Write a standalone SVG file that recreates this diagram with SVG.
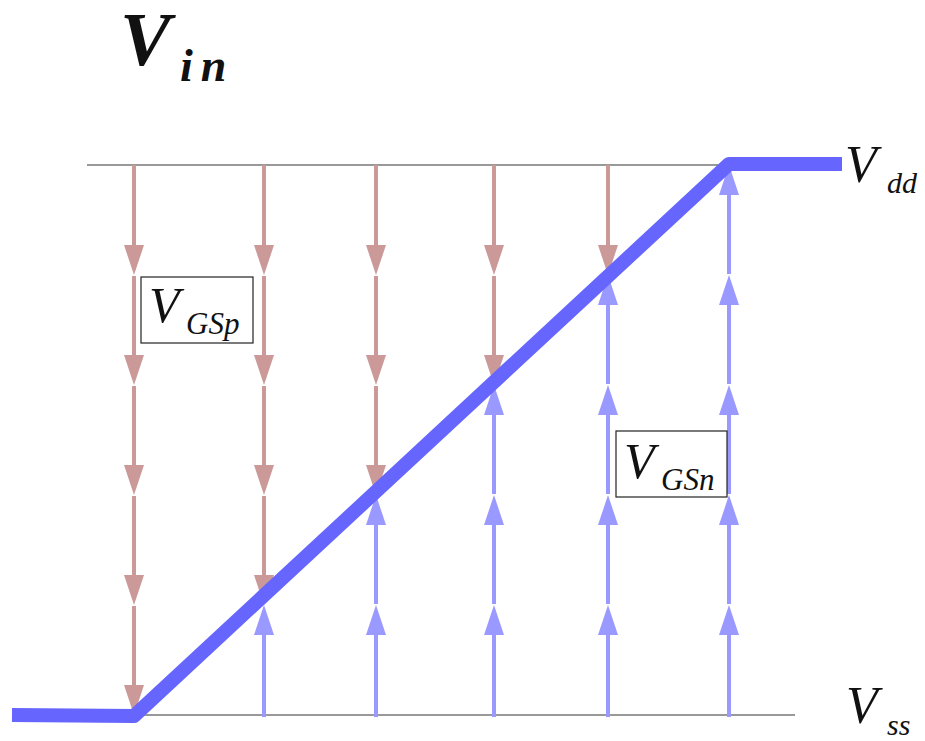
<svg xmlns="http://www.w3.org/2000/svg" width="925" height="741" viewBox="0 0 925 741">
<defs>
<style>
.rail{stroke:#999999;stroke-width:2;fill:none}
.pa{stroke:#cc9999;stroke-width:4;fill:none;marker-end:url(#hr)}
.na{stroke:#9999ff;stroke-width:4;fill:none;marker-end:url(#hb)}
.vin{stroke:#6666ff;stroke-width:14;fill:none;stroke-linejoin:round}
.lbl{font-family:"Liberation Serif","DejaVu Serif",serif;font-style:italic;fill:#111}
.box{fill:#ffffff;stroke:#222;stroke-width:1.2}
</style>
<marker id="hr" markerUnits="userSpaceOnUse" markerWidth="30" markerHeight="20" viewBox="0 0 30 20" refX="10" refY="10" orient="auto"><path d="M0,0 L30,10 L0,20 z" fill="#cc9999"/></marker>
<marker id="hb" markerUnits="userSpaceOnUse" markerWidth="30" markerHeight="20" viewBox="0 0 30 20" refX="10" refY="10" orient="auto"><path d="M0,0 L30,10 L0,20 z" fill="#9999ff"/></marker>
</defs>
<rect width="925" height="741" fill="#ffffff"/>
<g id="rails">
<line class="rail" x1="87" y1="165" x2="728" y2="165"/>
<line class="rail" x1="130" y1="715" x2="795" y2="715"/>
</g>
<g id="connectors">
<path class="pa" d="M134,165V255"/><path class="pa" d="M134,276V365"/><path class="pa" d="M134,386V475"/><path class="pa" d="M134,496V585"/><path class="pa" d="M134,606V695"/>
<path class="pa" d="M264,165V255"/><path class="pa" d="M264,276V365"/><path class="pa" d="M264,386V475"/><path class="pa" d="M264,496V585"/>
<path class="pa" d="M376,165V255"/><path class="pa" d="M376,276V365"/><path class="pa" d="M376,386V475"/>
<path class="pa" d="M494,165V255"/><path class="pa" d="M494,276V365"/>
<path class="pa" d="M608,165V255"/>
<path class="na" d="M264,717V625"/>
<path class="na" d="M376,717V625"/><path class="na" d="M376,604V515"/>
<path class="na" d="M494,717V625"/><path class="na" d="M494,604V515"/><path class="na" d="M494,494V405"/>
<path class="na" d="M608,717V625"/><path class="na" d="M608,604V515"/><path class="na" d="M608,494V405"/><path class="na" d="M608,384V295"/>
<path class="na" d="M729,717V625"/><path class="na" d="M729,604V515"/><path class="na" d="M729,494V405"/><path class="na" d="M729,384V295"/><path class="na" d="M729,274V185"/>
</g>
<g id="vin-curve">
<path class="vin" d="M12,715 L134,716 L729,164 L842,164"/>
</g>
<g id="title">
<text class="lbl" font-weight="bold" font-size="76" x="120" y="65">V</text>
<text class="lbl" font-weight="bold" font-size="46" x="180" y="81" letter-spacing="8">in</text>
</g>
<g id="vdd">
<text class="lbl" font-size="52" x="845" y="182">V</text>
<text class="lbl" font-size="30" x="887" y="193">dd</text>
</g>
<g id="vss">
<text class="lbl" font-size="52" x="846" y="723">V</text>
<text class="lbl" font-size="30" x="887" y="735">ss</text>
</g>
<g id="vgsp">
<rect class="box" x="141" y="277" width="112" height="66"/>
<text class="lbl" font-size="50" x="149" y="322">V</text>
<text class="lbl" font-size="31" x="186" y="334">GSp</text>
</g>
<g id="vgsn">
<rect class="box" x="616" y="431" width="111" height="66"/>
<text class="lbl" font-size="50" x="624" y="478">V</text>
<text class="lbl" font-size="31" x="661" y="490">GSn</text>
</g>
</svg>
